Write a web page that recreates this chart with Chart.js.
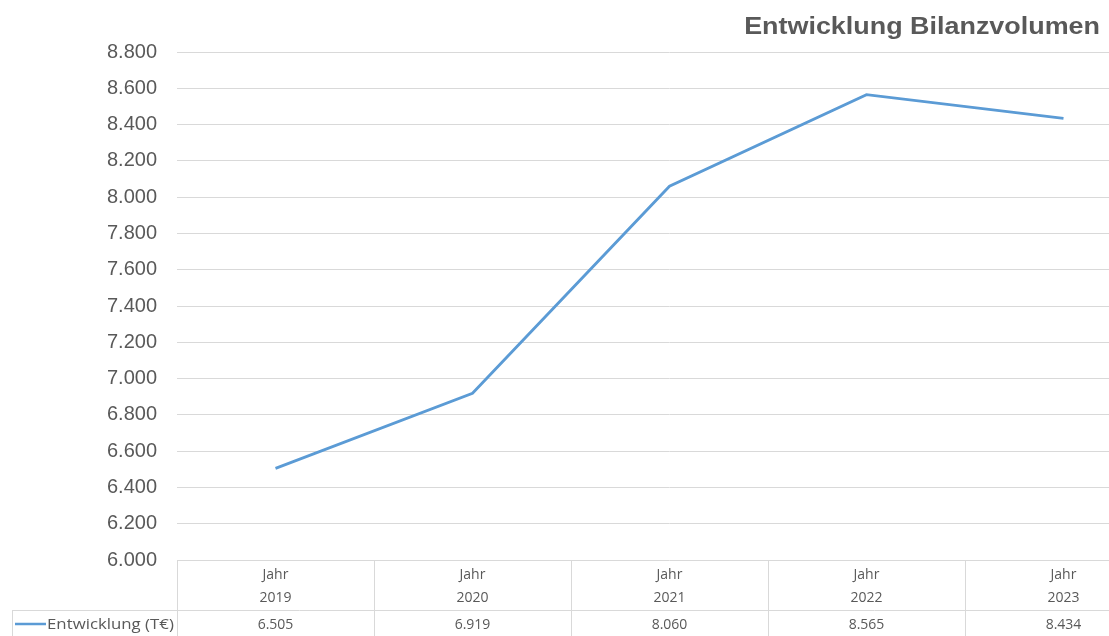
<!DOCTYPE html>
<html>
<head>
<meta charset="utf-8">
<script src="https://cdn.jsdelivr.net/npm/chart.js@4/dist/chart.umd.min.js"></script>
<style>
    body { margin: 0; overflow: hidden; background: #fff; }
    #wrap { width: 1109px; height: 636px; overflow: hidden; }
</style>
</head>
<body>
<div id="wrap">
    <canvas id="bilanzChart" width="1170" height="636"></canvas>
</div>
<script>
// Bilanzvolumen in T€
const years = ['2019', '2020', '2021', '2022', '2023'];
const volumes = [6505, 6919, 8060, 8565, 8434];
const seriesLabel = 'Entwicklung (T€)';
const chartTitle = 'Entwicklung Bilanzvolumen';
const yMin = 6000;
const yMax = 8800;
const yStep = 200;

const textColor = '#595959';
const gridColor = '#d9d9d9';
const lineColor = '#5b9bd5';

// German thousands separator
function formatDE(v) {
    return String(v).replace(/\B(?=(\d{3})+(?!\d))/g, '.');
}

// draw text slightly widened, anchored at its right or left edge
function wideText(ctx, text, x, y, stretch, align) {
    ctx.save();
    ctx.translate(x, y);
    ctx.scale(stretch, 1);
    ctx.textAlign = align;
    ctx.fillText(text, 0, 0);
    ctx.restore();
}

// Title in the upper right corner
const cornerTitle = {
    id: 'cornerTitle',
    afterDraw(chart) {
        const ctx = chart.ctx;
        ctx.save();
        ctx.font = 'bold 23px "Liberation Sans", Arial, sans-serif';
        ctx.fillStyle = textColor;
        ctx.textBaseline = 'middle';
        wideText(ctx, chartTitle, 1100, 28, 1.17, 'right');
        ctx.restore();
    }
};

// Excel style data table below the plot
const dataTable = {
    id: 'dataTable',
    afterDraw(chart) {
        const { ctx, chartArea, scales: { x } } = chart;
        const colW = chartArea.width / years.length;
        const top = chartArea.bottom;
        const rowSplit = top + 50;
        const bottom = chart.height;

        ctx.save();
        ctx.strokeStyle = gridColor;
        ctx.lineWidth = 1;
        ctx.beginPath();
        // row separator, runs under the legend cell as well
        ctx.moveTo(12, rowSplit + 0.5);
        ctx.lineTo(chartArea.right, rowSplit + 0.5);
        // left edge of the legend cell
        ctx.moveTo(12.5, rowSplit);
        ctx.lineTo(12.5, bottom);
        for (let i = 0; i <= years.length; i++) {
            const xe = Math.round(chartArea.left + i * colW) + 0.5;
            ctx.moveTo(xe, top);
            ctx.lineTo(xe, bottom);
        }
        ctx.stroke();

        ctx.font = '14px "Open Sans", sans-serif';
        ctx.fillStyle = textColor;
        ctx.textAlign = 'center';
        ctx.textBaseline = 'middle';
        years.forEach((yr, i) => {
            const cx = x.getPixelForValue(i);
            ctx.fillText('Jahr', cx, top + 15);
            ctx.fillText(yr, cx, top + 38);
            ctx.fillText(formatDE(volumes[i]), cx, rowSplit + 15);
        });

        // legend key
        ctx.strokeStyle = lineColor;
        ctx.lineWidth = 2.5;
        ctx.beginPath();
        ctx.moveTo(15, rowSplit + 14);
        ctx.lineTo(46, rowSplit + 14);
        ctx.stroke();
        ctx.font = '15px "Open Sans", sans-serif';
        wideText(ctx, seriesLabel, 47, rowSplit + 15, 1.12, 'left');
        ctx.restore();
    }
};

const ctx = document.getElementById('bilanzChart').getContext('2d');
const bilanzChart = new Chart(ctx, {
    type: 'line',
    data: {
        labels: years,
        datasets: [{
            label: seriesLabel,
            data: volumes,
            borderColor: lineColor,
            borderWidth: 2.8,
            pointRadius: 0,
            tension: 0,
            fill: false
        }]
    },
    options: {
        responsive: false,
        animation: false,
        layout: {
            padding: { top: 52, right: 8, bottom: 76, left: 0 }
        },
        plugins: {
            legend: { display: false },
            title: { display: false },
            tooltip: { enabled: false }
        },
        scales: {
            x: {
                display: false,
                offset: true
            },
            y: {
                min: yMin,
                max: yMax,
                afterFit(scale) {
                    scale.width = 177;
                },
                ticks: {
                    stepSize: yStep,
                    padding: 20,
                    color: textColor,
                    font: { family: '"Liberation Sans", Arial, sans-serif', size: 20 },
                    callback: v => formatDE(v)
                },
                grid: {
                    color: gridColor,
                    drawTicks: false
                },
                border: { display: false }
            }
        }
    },
    plugins: [cornerTitle, dataTable]
});
</script>
</body>
</html>
